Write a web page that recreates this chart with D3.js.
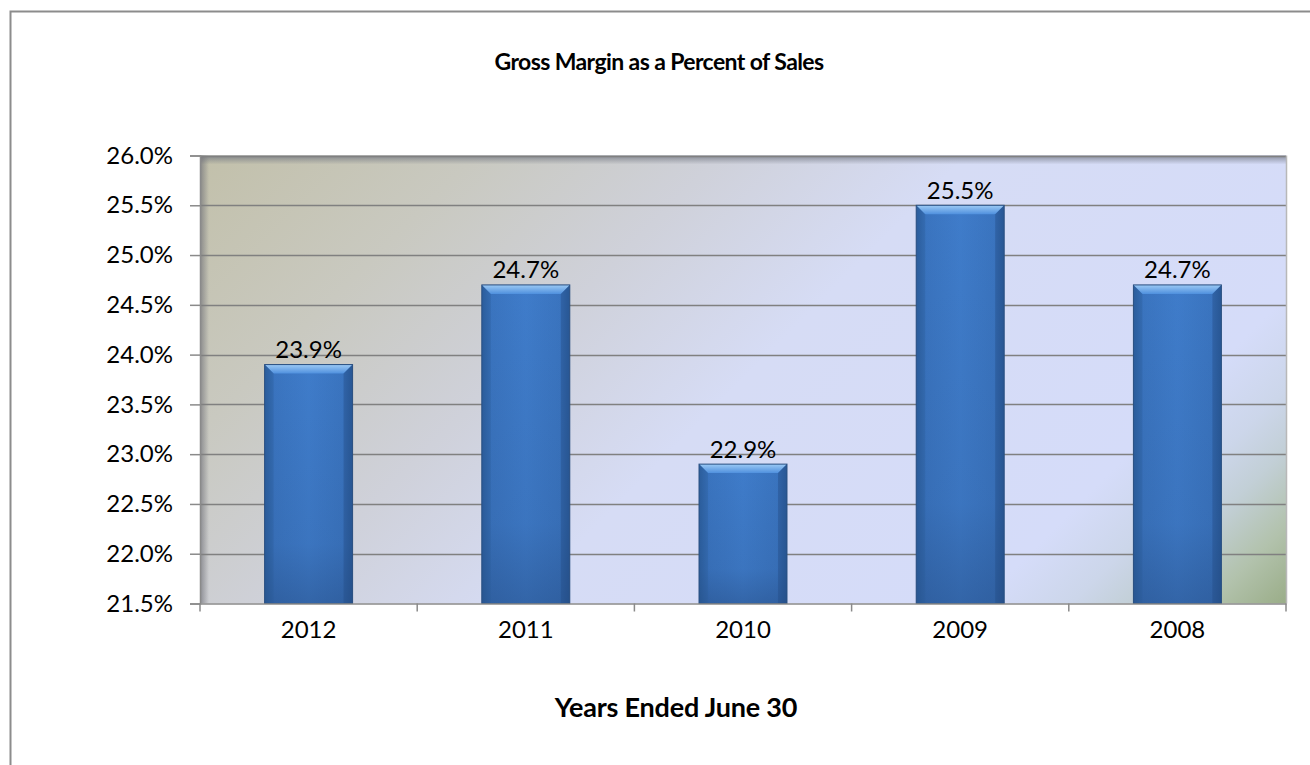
<!DOCTYPE html>
<html>
<head>
<meta charset="utf-8">
<script src="https://cdn.jsdelivr.net/npm/d3@7"></script>
<style>
  html, body { margin: 0; padding: 0; background: #fff; }
  svg { display: block; }
  text { font-family: Lato, "Open Sans", sans-serif; fill: #000; }
</style>
</head>
<body>
<svg id="chart" width="1310" height="765"></svg>
<script>
// Gross margin by fiscal year
const years = ["2012", "2011", "2010", "2009", "2008"];
const marginPct = [23.9, 24.7, 22.9, 25.5, 24.7];
const yTicks = [21.5, 22.0, 22.5, 23.0, 23.5, 24.0, 24.5, 25.0, 25.5, 26.0];

const titleText = "Gross Margin as a Percent of Sales";
const xTitleText = "Years Ended June 30";

const W = 1310, H = 765;
const plot = { left: 200, right: 1286, top: 155.5, bottom: 603.5 };
const labelSize = 24;

const svg = d3.select("#chart");
const defs = svg.append("defs");

// Plot background: diagonal blend from warm gray (top-left) through pale blue to sage green (bottom-right)
const diag = ((plot.right - plot.left) + (plot.bottom - plot.top)) / 2;
const bg = defs.append("linearGradient").attr("id", "bgGrad")
  .attr("gradientUnits", "userSpaceOnUse")
  .attr("x1", plot.left).attr("y1", plot.top)
  .attr("x2", plot.left + diag).attr("y2", plot.top + diag);
[
  [0.00, "#c2c0aa"],
  [0.18, "#c9c9c0"],
  [0.34, "#cfd1da"],
  [0.50, "#d6dcf5"],
  [0.80, "#d5dcf9"],
  [0.86, "#ccd6ea"],
  [0.90, "#c2cfd6"],
  [0.95, "#b2c2ac"],
  [1.00, "#9aad88"]
].forEach(([o, c]) => bg.append("stop").attr("offset", o).attr("stop-color", c));

// Inner shadow along the top edge
const topShade = defs.append("linearGradient").attr("id", "topShade")
  .attr("x1", "0").attr("y1", "0").attr("x2", "0").attr("y2", "1");
topShade.append("stop").attr("offset", "0").attr("stop-color", "#6f7480").attr("stop-opacity", 0.75);
topShade.append("stop").attr("offset", "1").attr("stop-color", "#6f7480").attr("stop-opacity", 0);

// Inner shadow along the left edge
const leftShade = defs.append("linearGradient").attr("id", "leftShade")
  .attr("x1", "0").attr("y1", "0").attr("x2", "1").attr("y2", "0");
leftShade.append("stop").attr("offset", "0").attr("stop-color", "#6f7078").attr("stop-opacity", 0.7);
leftShade.append("stop").attr("offset", "1").attr("stop-color", "#6f7078").attr("stop-opacity", 0);

// Bar body: darker at the sides
const barGrad = defs.append("linearGradient").attr("id", "barGrad")
  .attr("x1", "0").attr("y1", "0").attr("x2", "1").attr("y2", "0");
barGrad.append("stop").attr("offset", "0").attr("stop-color", "#2c5f9f");
barGrad.append("stop").attr("offset", "0.1").attr("stop-color", "#3a74bf");
barGrad.append("stop").attr("offset", "0.5").attr("stop-color", "#3f7cca");
barGrad.append("stop").attr("offset", "0.9").attr("stop-color", "#3a74bf");
barGrad.append("stop").attr("offset", "1").attr("stop-color", "#2c5f9f");

// Bar darkening toward the base
const barShade = defs.append("linearGradient").attr("id", "barShade")
  .attr("x1", "0").attr("y1", "0").attr("x2", "0").attr("y2", "1");
barShade.append("stop").attr("offset", "0").attr("stop-color", "#1f3f70").attr("stop-opacity", 0);
barShade.append("stop").attr("offset", "0.75").attr("stop-color", "#1f3f70").attr("stop-opacity", 0.12);
barShade.append("stop").attr("offset", "1").attr("stop-color", "#1f3f70").attr("stop-opacity", 0.38);

// Top bevel highlight
const bevel = defs.append("linearGradient").attr("id", "bevel")
  .attr("x1", "0").attr("y1", "0").attr("x2", "0").attr("y2", "1");
bevel.append("stop").attr("offset", "0").attr("stop-color", "#9ccaf5");
bevel.append("stop").attr("offset", "1").attr("stop-color", "#4f90de");

// Outer chart frame
svg.append("rect")
  .attr("x", 10.5).attr("y", 11.5)
  .attr("width", W + 20).attr("height", H + 20)
  .attr("fill", "#fff").attr("stroke", "#8c8c8c").attr("stroke-width", 2);

// Scales
const x = d3.scaleBand().domain(years)
  .range([plot.left, plot.right]).paddingInner(0.595).paddingOuter(0.2975);
const y = d3.scaleLinear().domain([21.5, 26.0]).range([plot.bottom, plot.top]);

const pw = plot.right - plot.left, ph = plot.bottom - plot.top;

// Plot area background
svg.append("rect").attr("x", plot.left).attr("y", plot.top)
  .attr("width", pw).attr("height", ph).attr("fill", "url(#bgGrad)");
svg.append("rect").attr("x", plot.left).attr("y", plot.top)
  .attr("width", pw).attr("height", 9).attr("fill", "url(#topShade)");
svg.append("rect").attr("x", plot.left).attr("y", plot.top)
  .attr("width", 9).attr("height", ph).attr("fill", "url(#leftShade)");

// Horizontal gridlines
svg.append("g")
  .selectAll("line").data(yTicks.filter(d => d > 21.5)).join("line")
  .attr("x1", plot.left).attr("x2", plot.right)
  .attr("y1", d => Math.round(y(d)) + 0.5).attr("y2", d => Math.round(y(d)) + 0.5)
  .attr("stroke", "#808080").attr("stroke-width", 1.6);

// Right border of plot area
svg.append("line")
  .attr("x1", plot.right + 0.5).attr("x2", plot.right + 0.5)
  .attr("y1", plot.top).attr("y2", plot.bottom)
  .attr("stroke", "#b8b8b8").attr("stroke-width", 1.5);

// Bars
const bars = svg.append("g").selectAll("g").data(years).join("g");
bars.append("rect")
  .attr("x", d => x(d)).attr("y", (d, i) => y(marginPct[i]))
  .attr("width", x.bandwidth())
  .attr("height", (d, i) => plot.bottom - y(marginPct[i]))
  .attr("fill", "url(#barGrad)");
bars.append("rect")
  .attr("x", d => x(d)).attr("y", (d, i) => y(marginPct[i]))
  .attr("width", x.bandwidth())
  .attr("height", (d, i) => plot.bottom - y(marginPct[i]))
  .attr("fill", "url(#barShade)");
bars.append("path")
  .attr("d", (d, i) => {
    const x0 = x(d), x1 = x(d) + x.bandwidth(), t = y(marginPct[i]), b = 9;
    return `M${x0},${t}L${x1},${t}L${x1 - b},${t + b}L${x0 + b},${t + b}Z`;
  })
  .attr("fill", "url(#bevel)");
bars.append("path")
  .attr("d", (d, i) => {
    const x0 = x(d), t = y(marginPct[i]), b = 9, bot = plot.bottom;
    return `M${x0},${t}L${x0 + b},${t + b}L${x0 + b},${bot}L${x0},${bot}Z`;
  })
  .attr("fill", "#2b5b98").attr("opacity", 0.35);
bars.append("path")
  .attr("d", (d, i) => {
    const x1 = x(d) + x.bandwidth(), t = y(marginPct[i]), b = 9, bot = plot.bottom;
    return `M${x1},${t}L${x1 - b},${t + b}L${x1 - b},${bot}L${x1},${bot}Z`;
  })
  .attr("fill", "#234d85").attr("opacity", 0.42);
bars.append("rect")
  .attr("x", d => x(d)).attr("y", (d, i) => y(marginPct[i]))
  .attr("width", x.bandwidth())
  .attr("height", (d, i) => plot.bottom - y(marginPct[i]))
  .attr("fill", "none").attr("stroke", "#2a4f80").attr("stroke-width", 1);

// Value labels
svg.append("g").selectAll("text").data(years).join("text")
  .attr("x", d => x(d) + x.bandwidth() / 2)
  .attr("y", (d, i) => y(marginPct[i]) - 6.5)
  .attr("text-anchor", "middle")
  .attr("font-size", labelSize)
  .text((d, i) => marginPct[i].toFixed(1) + "%");

// Y axis
const yAxis = d3.axisLeft(y).tickValues(yTicks)
  .tickFormat(d => d.toFixed(1) + "%").tickSize(10).tickPadding(17);
const gy = svg.append("g").attr("transform", `translate(${plot.left},0)`).call(yAxis);
gy.select(".domain").attr("stroke", "#8a8a8a").attr("stroke-width", 1.5);
gy.selectAll(".tick line").attr("stroke", "#8a8a8a").attr("stroke-width", 1.5);
gy.selectAll(".tick text").attr("font-size", labelSize).attr("font-family", "Lato, sans-serif").attr("fill", "#000");

// X axis with ticks at category boundaries
const xAxis = d3.axisBottom(x).tickSize(0).tickPadding(17);
const gx = svg.append("g").attr("transform", `translate(0,${plot.bottom})`).call(xAxis);
gx.select(".domain").attr("stroke", "#8a8a8a").attr("stroke-width", 1.5);
gx.selectAll(".tick text").attr("font-size", labelSize).attr("font-family", "Lato, sans-serif").attr("fill", "#000");
const step = x.step();
const boundaries = d3.range(years.length + 1).map(i => x(years[0]) - x.paddingOuter() * step + i * step);
gx.append("g").selectAll("line").data(boundaries).join("line")
  .attr("x1", d => d).attr("x2", d => d).attr("y1", 0).attr("y2", 8)
  .attr("stroke", "#8a8a8a").attr("stroke-width", 1.5);

// Titles
svg.append("text").attr("x", 659).attr("y", 70)
  .attr("text-anchor", "middle").attr("font-size", 23).attr("font-weight", "bold")
  .attr("letter-spacing", -0.6)
  .text(titleText);
svg.append("text").attr("x", 676).attr("y", 717)
  .attr("text-anchor", "middle").attr("font-size", 27).attr("font-weight", "bold")
  .attr("letter-spacing", -0.2)
  .text(xTitleText);
</script>
</body>
</html>
